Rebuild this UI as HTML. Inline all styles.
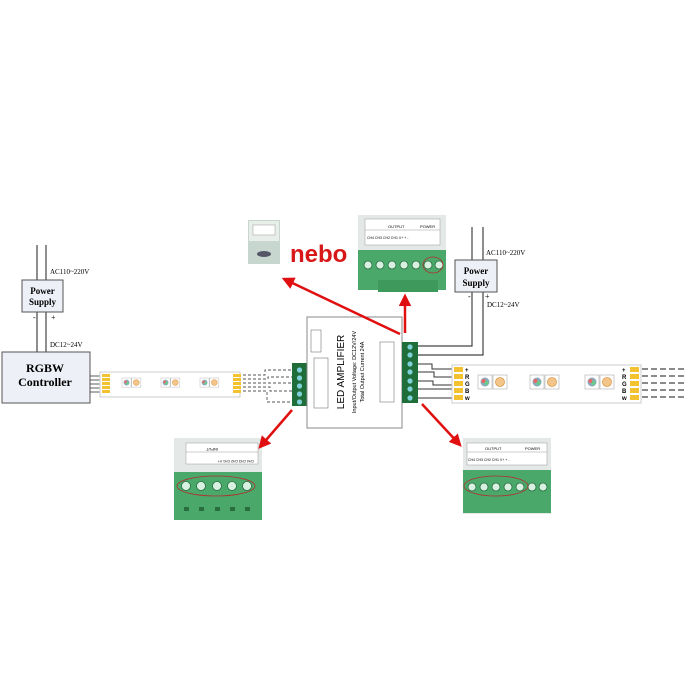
<!DOCTYPE html>
<html><head><style>
html,body{margin:0;padding:0;background:#fff;}
svg{display:block;}
.s{font-family:"Liberation Serif",serif;}
.a{font-family:"Liberation Sans",sans-serif;}
</style></head><body>
<svg width="700" height="700" viewBox="0 0 700 700">
<defs>
<marker id="ah" viewBox="0 0 10 10" refX="8" refY="5" markerWidth="5" markerHeight="5" orient="auto"><path d="M0,0L10,5L0,10z" fill="#e01010"/></marker>
<g id="led">
<rect x="0" y="0" width="14" height="14" fill="#fff" stroke="#aaa" stroke-width="0.6"/>
<circle cx="7" cy="7" r="4.5" fill="#8ab"/><circle cx="5.5" cy="6" r="2" fill="#e66"/><circle cx="8.5" cy="8" r="2" fill="#6c8"/>
<rect x="15" y="0" width="14" height="14" fill="#fff" stroke="#aaa" stroke-width="0.6"/>
<circle cx="22" cy="7" r="4.5" fill="#f3c58a" stroke="#d89a4a" stroke-width="0.8"/>
</g>
</defs>

<!-- left power supply -->
<line x1="37" y1="245" x2="37" y2="352" stroke="#444" stroke-width="1.2"/>
<line x1="46" y1="245" x2="46" y2="352" stroke="#444" stroke-width="1.2"/>
<rect x="22" y="280" width="41" height="32" fill="#eef0f8" stroke="#555"/>
<text x="42.5" y="294" class="s" font-size="9" font-weight="bold" text-anchor="middle">Power</text>
<text x="42.5" y="305" class="s" font-size="9" font-weight="bold" text-anchor="middle">Supply</text>
<text x="50" y="274" class="s" font-size="7">AC110~220V</text>
<text x="33" y="320" class="s" font-size="8">-</text>
<text x="51" y="320" class="s" font-size="8">+</text>
<text x="50" y="347" class="s" font-size="7">DC12~24V</text>
<rect x="2" y="352" width="88" height="51" fill="#eef0f8" stroke="#555"/>
<text x="45" y="372" class="s" font-size="12" font-weight="bold" text-anchor="middle">RGBW</text>
<text x="45" y="386" class="s" font-size="12" font-weight="bold" text-anchor="middle">Controller</text>

<!-- strip 1 -->
<g stroke="#333" stroke-width="0.8">
<line x1="90" y1="376" x2="103" y2="376"/><line x1="90" y1="380" x2="103" y2="380"/><line x1="90" y1="384" x2="103" y2="384"/><line x1="90" y1="388" x2="103" y2="388"/><line x1="90" y1="392" x2="103" y2="392"/>
</g>
<rect x="100" y="372" width="140" height="25" fill="#fff" stroke="#ccc"/>
<g fill="#f2c230"><rect x="102" y="374" width="8" height="3"/><rect x="102" y="378" width="8" height="3"/><rect x="102" y="382" width="8" height="3"/><rect x="102" y="386" width="8" height="3"/><rect x="102" y="390" width="8" height="3"/>
<rect x="233" y="374" width="8" height="3"/><rect x="233" y="378" width="8" height="3"/><rect x="233" y="382" width="8" height="3"/><rect x="233" y="386" width="8" height="3"/><rect x="233" y="390" width="8" height="3"/></g>
<use href="#led" transform="translate(122,378) scale(0.65)"/>
<use href="#led" transform="translate(161,378) scale(0.65)"/>
<use href="#led" transform="translate(200,378) scale(0.65)"/>
<g stroke="#555" stroke-width="0.9" stroke-dasharray="3,2" fill="none">
<path d="M243,375 H265 V370 H292"/><path d="M243,379 H268 V377 H292"/><path d="M243,383 H292"/><path d="M243,387 H270 V391 H292"/><path d="M243,391 H267 V402 H292"/>
</g>
<!-- left terminal -->
<rect x="292" y="363" width="15" height="43" fill="#1f6e3a"/>
<g fill="#7fd0d8"><circle cx="299.5" cy="370" r="2.6"/><circle cx="299.5" cy="378" r="2.6"/><circle cx="299.5" cy="386" r="2.6"/><circle cx="299.5" cy="394" r="2.6"/><circle cx="299.5" cy="402" r="2.6"/></g>

<!-- amplifier -->
<rect x="307" y="317" width="95" height="111" fill="#fff" stroke="#888"/>
<rect x="311" y="330" width="10" height="22" fill="#fff" stroke="#777" stroke-width="0.6"/>
<rect x="314" y="358" width="14" height="50" fill="#fff" stroke="#777" stroke-width="0.6"/>
<rect x="380" y="342" width="14" height="60" fill="#fff" stroke="#777" stroke-width="0.6"/>
<text transform="translate(344,372) rotate(-90)" class="a" font-size="10" text-anchor="middle">LED AMPLIFIER</text>
<text transform="translate(356,372) rotate(-90)" class="a" font-size="5.5" text-anchor="middle">Input/Output Voltage: DC12V/24V</text>
<text transform="translate(364,372) rotate(-90)" class="a" font-size="5.5" text-anchor="middle">Total Output Current 24A</text>
<!-- right terminal -->
<rect x="402" y="342" width="16" height="61" fill="#1f6e3a"/>
<g fill="#7fd0d8"><circle cx="410" cy="347" r="2.6"/><circle cx="410" cy="355" r="2.6"/><circle cx="410" cy="364" r="2.6"/><circle cx="410" cy="372" r="2.6"/><circle cx="410" cy="381" r="2.6"/><circle cx="410" cy="389" r="2.6"/><circle cx="410" cy="398" r="2.6"/></g>

<!-- right power -->
<g stroke="#444" stroke-width="1.2" fill="none">
<path d="M472,227 V346 H418"/><path d="M483,227 V355 H418"/>
</g>
<rect x="455" y="260" width="42" height="32" fill="#eef0f8" stroke="#555"/>
<text x="476" y="274" class="s" font-size="9" font-weight="bold" text-anchor="middle">Power</text>
<text x="476" y="286" class="s" font-size="9" font-weight="bold" text-anchor="middle">Supply</text>
<text x="486" y="255" class="s" font-size="7">AC110~220V</text>
<text x="468" y="299" class="s" font-size="8">-</text>
<text x="485" y="299" class="s" font-size="8">+</text>
<text x="487" y="307" class="s" font-size="7">DC12~24V</text>

<!-- wires to strip 2 -->
<g stroke="#333" stroke-width="1" fill="none">
<path d="M418,364 H432 V369 H455"/><path d="M418,372 H434 V377 H455"/><path d="M418,381 H433 V385 H455"/><path d="M418,389 H455 V393"/><path d="M418,398 H455"/>
</g>
<rect x="452" y="365" width="189" height="38" fill="#fff" stroke="#ccc"/>
<g fill="#f2c230"><rect x="454" y="367" width="9" height="5"/><rect x="454" y="374" width="9" height="5"/><rect x="454" y="381" width="9" height="5"/><rect x="454" y="388" width="9" height="5"/><rect x="454" y="395" width="9" height="5"/>
<rect x="630" y="367" width="9" height="5"/><rect x="630" y="374" width="9" height="5"/><rect x="630" y="381" width="9" height="5"/><rect x="630" y="388" width="9" height="5"/><rect x="630" y="395" width="9" height="5"/></g>
<g class="a" font-size="6" font-weight="bold"><text x="465" y="372">+</text><text x="465" y="379">R</text><text x="465" y="386">G</text><text x="465" y="393">B</text><text x="465" y="400">w</text>
<text x="622" y="372">+</text><text x="622" y="379">R</text><text x="622" y="386">G</text><text x="622" y="393">B</text><text x="622" y="400">w</text></g>
<use href="#led" transform="translate(478,375)"/>
<use href="#led" transform="translate(530,375)"/>
<use href="#led" transform="translate(585,375)"/>
<g stroke="#444" stroke-width="1.2" stroke-dasharray="6,3"><line x1="642" y1="369" x2="685" y2="369"/><line x1="642" y1="376" x2="685" y2="376"/><line x1="642" y1="383" x2="685" y2="383"/><line x1="642" y1="390" x2="685" y2="390"/><line x1="642" y1="397" x2="685" y2="397"/></g>

<!-- nebo photo -->
<rect x="248" y="220" width="32" height="44" fill="#c8d6d0"/>
<rect x="249" y="221" width="30" height="20" fill="#e8eeea"/>
<rect x="253" y="225" width="22" height="10" fill="#fff" stroke="#999" stroke-width="0.5"/>
<ellipse cx="264" cy="254" rx="7" ry="3" fill="#556"/>
<text x="290" y="262" class="a" font-size="24" font-weight="bold" fill="#d81818">nebo</text>

<!-- top photo -->
<rect x="358" y="215" width="88" height="75" fill="#e4e8e6"/>
<rect x="365" y="219" width="75" height="26" fill="#fff" stroke="#999" stroke-width="0.5"/>
<line x1="365" y1="230" x2="440" y2="230" stroke="#999" stroke-width="0.5"/>
<text x="388" y="228" class="a" font-size="4">OUTPUT</text><text x="420" y="228" class="a" font-size="4">POWER</text>
<text x="367" y="239" class="a" font-size="3.5">CH4 CH3 CH2 CH1 V+  +  -</text>
<rect x="358" y="250" width="88" height="40" fill="#4aa86a"/>
<rect x="378" y="280" width="60" height="12" fill="#3e9a5c"/>
<g fill="#d8f0e0" stroke="#2a6e40" stroke-width="0.8"><circle cx="368" cy="265" r="4"/><circle cx="380" cy="265" r="4"/><circle cx="392" cy="265" r="4"/><circle cx="404" cy="265" r="4"/><circle cx="416" cy="265" r="4"/><circle cx="428" cy="265" r="4"/><circle cx="439" cy="265" r="4"/></g>
<ellipse cx="433" cy="265" rx="10" ry="8" fill="none" stroke="#b03030" stroke-width="0.8"/>

<!-- bottom left photo -->
<rect x="174" y="438" width="88" height="82" fill="#e4e8e6"/>
<rect x="186" y="443" width="72" height="21" fill="#fff" stroke="#999" stroke-width="0.5"/>
<line x1="186" y1="452" x2="258" y2="452" stroke="#999" stroke-width="0.5"/>
<text transform="translate(218,448) rotate(180)" class="a" font-size="4">INPUT</text>
<text transform="translate(254,460) rotate(180)" class="a" font-size="3.5">CH4 CH3 CH2 CH1 V+</text>
<rect x="174" y="472" width="88" height="48" fill="#4aa86a"/>
<g fill="#d8f0e0" stroke="#2a6e40" stroke-width="0.8"><circle cx="186" cy="486" r="4.5"/><circle cx="201" cy="486" r="4.5"/><circle cx="217" cy="486" r="4.5"/><circle cx="232" cy="486" r="4.5"/><circle cx="247" cy="486" r="4.5"/></g>
<g fill="#2a6e40"><rect x="184" y="507" width="5" height="4"/><rect x="199" y="507" width="5" height="4"/><rect x="215" y="507" width="5" height="4"/><rect x="230" y="507" width="5" height="4"/><rect x="245" y="507" width="5" height="4"/></g>
<ellipse cx="216" cy="486" rx="39" ry="10" fill="none" stroke="#b03030" stroke-width="0.8"/>

<!-- bottom right photo -->
<rect x="463" y="438" width="88" height="76" fill="#e4e8e6"/>
<rect x="467" y="443" width="80" height="22" fill="#fff" stroke="#999" stroke-width="0.5"/>
<line x1="467" y1="452" x2="547" y2="452" stroke="#999" stroke-width="0.5"/>
<text x="485" y="450" class="a" font-size="4">OUTPUT</text><text x="525" y="450" class="a" font-size="4">POWER</text>
<text x="468" y="461" class="a" font-size="3.5">CH4 CH3 CH2 CH1 V+  +  -</text>
<rect x="463" y="470" width="88" height="43" fill="#4aa86a"/>
<g fill="#d8f0e0" stroke="#2a6e40" stroke-width="0.8"><circle cx="472" cy="487" r="4"/><circle cx="484" cy="487" r="4"/><circle cx="496" cy="487" r="4"/><circle cx="508" cy="487" r="4"/><circle cx="520" cy="487" r="4"/><circle cx="532" cy="487" r="4"/><circle cx="543" cy="487" r="4"/></g>
<ellipse cx="496" cy="486" rx="32" ry="10" fill="none" stroke="#b03030" stroke-width="0.8"/>

<!-- red arrows -->
<g stroke="#e01010" stroke-width="2.5" fill="none" marker-end="url(#ah)">
<line x1="400" y1="334" x2="284" y2="279"/>
<line x1="405" y1="333" x2="405" y2="296"/>
<line x1="292" y1="410" x2="260" y2="447"/>
<line x1="422" y1="404" x2="460" y2="445"/>
</g>
</svg>
</body></html>
